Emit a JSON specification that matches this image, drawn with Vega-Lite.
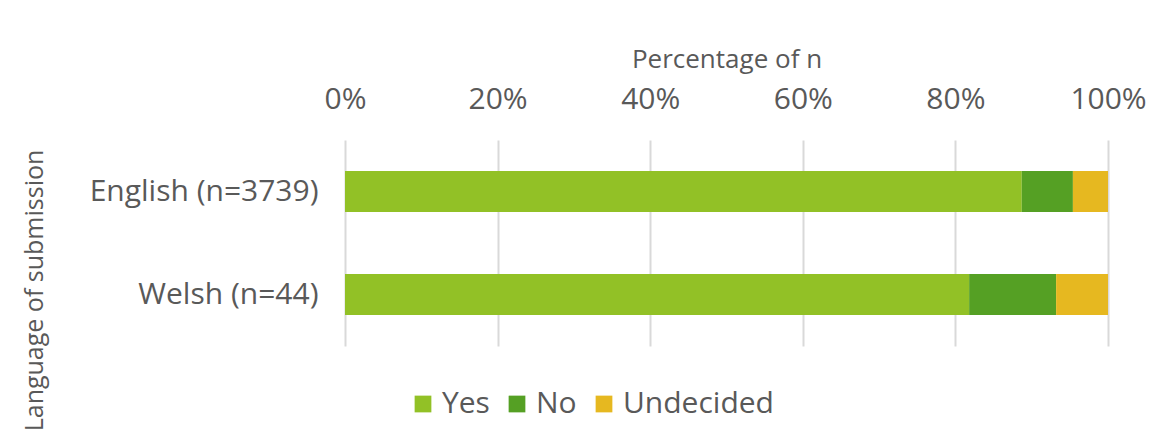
{
  "$schema": "https://vega.github.io/schema/vega-lite/v6.json",
  "width": 763,
  "height": 206,
  "autosize": {"type": "none"},
  "padding": {"left": 345, "top": 140, "right": 57, "bottom": 91},
  "background": "white",
  "config": {
    "font": "Open Sans",
    "view": {"stroke": null},
    "axis": {"labelColor": "#595959", "titleColor": "#595959", "titleFontWeight": "normal"}
  },
  "data": {
    "values": [
      {"language": "English (n=3739)", "response": "Yes", "pct": 0.887, "order": 1},
      {"language": "English (n=3739)", "response": "No", "pct": 0.067, "order": 2},
      {"language": "English (n=3739)", "response": "Undecided", "pct": 0.046, "order": 3},
      {"language": "Welsh (n=44)", "response": "Yes", "pct": 0.818, "order": 1},
      {"language": "Welsh (n=44)", "response": "No", "pct": 0.114, "order": 2},
      {"language": "Welsh (n=44)", "response": "Undecided", "pct": 0.068, "order": 3}
    ]
  },
  "mark": {"type": "bar"},
  "encoding": {
    "y": {
      "field": "language", "type": "nominal", "sort": ["English (n=3739)", "Welsh (n=44)"],
      "scale": {"paddingInner": 0.6, "paddingOuter": 0.3},
      "axis": {
        "title": "Language of submission", "titleFontSize": 25, "titleX": -298, "titleY": 150,
        "labelFontSize": 30, "labelPadding": 27, "labelLimit": 400, "ticks": false, "domain": false
      }
    },
    "x": {
      "field": "pct", "type": "quantitative", "stack": "zero",
      "scale": {"domain": [0, 1]},
      "axis": {
        "orient": "top", "format": "%", "values": [0, 0.2, 0.4, 0.6, 0.8, 1], "labelOverlap": false,
        "labelFlush": false, "labelBound": false,
        "title": "Percentage of n", "titleFontSize": 26, "titlePadding": 12,
        "labelFontSize": 30, "labelPadding": 26, "ticks": false, "domain": false,
        "grid": true, "gridColor": "#d9d9d9", "gridWidth": 2
      }
    },
    "color": {
      "field": "response", "type": "nominal",
      "scale": {"domain": ["Yes", "No", "Undecided"], "range": ["#92C126", "#55A024", "#E6B820"]},
      "legend": {
        "title": null, "orient": "none", "direction": "horizontal", "legendX": 63, "legendY": 249,
        "symbolType": "square", "symbolSize": 280, "symbolStrokeWidth": 0, "symbolOpacity": 1,
        "labelFontSize": 30, "labelColor": "#595959", "columnPadding": 12, "labelOffset": 4
      }
    },
    "order": {"field": "order", "type": "quantitative"}
  }
}
